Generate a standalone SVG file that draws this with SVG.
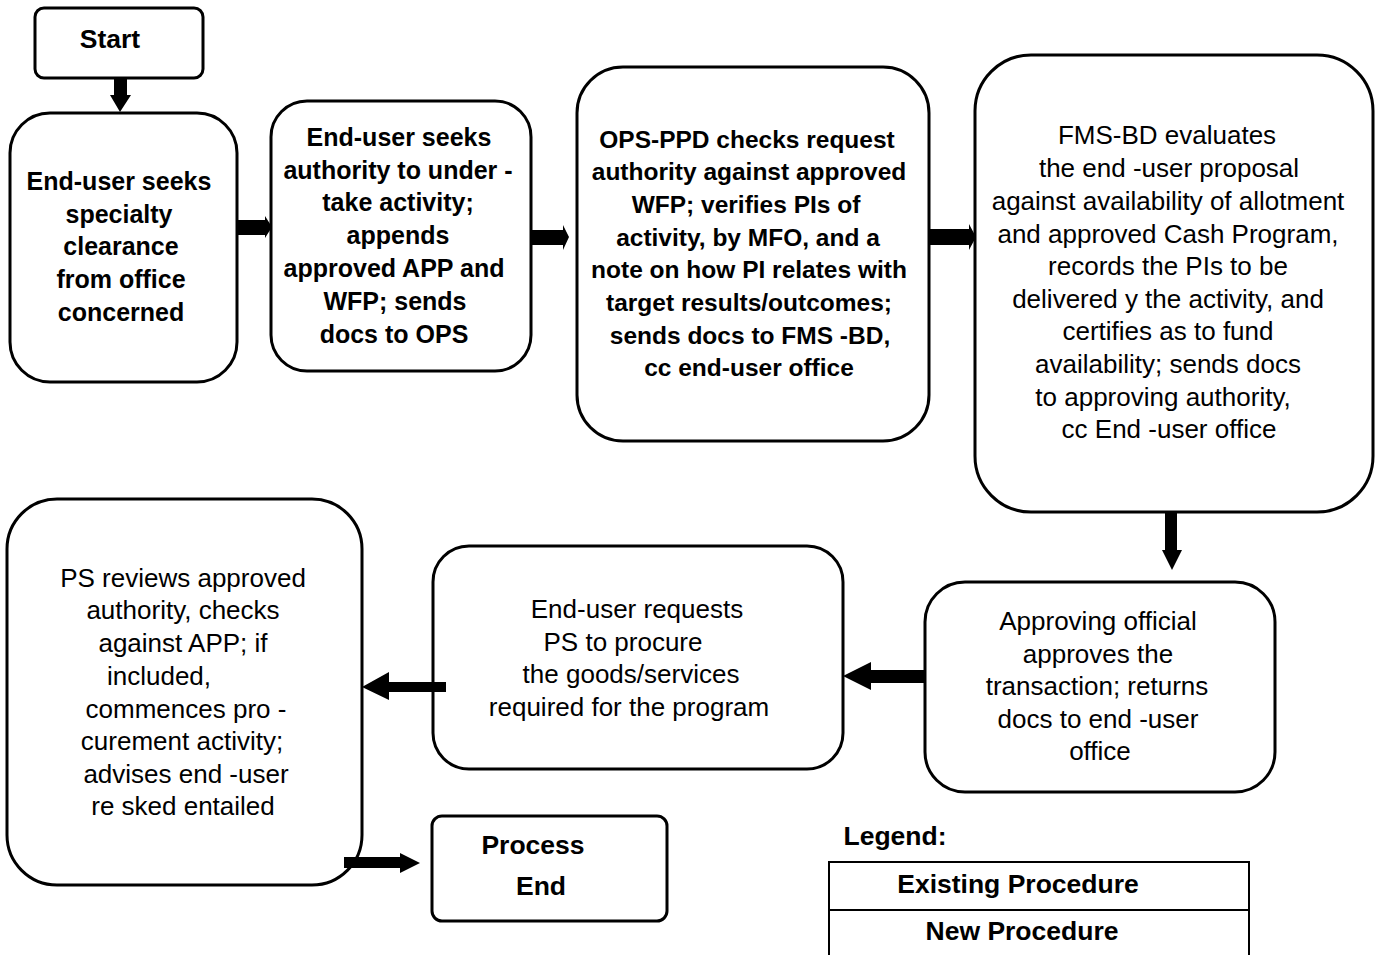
<svg xmlns="http://www.w3.org/2000/svg" width="1380" height="955" viewBox="0 0 1380 955">
<style>
.box{fill:#fff;stroke:#000;stroke-width:3}
.t{font-family:"Liberation Sans",Arial,sans-serif;font-size:26px;fill:#000;text-anchor:middle}
.b{font-weight:bold;font-size:25px}
.b3{font-size:24.5px}
.h{font-size:26.5px}
.arr{fill:#000;stroke:none}
</style>
<rect width="1380" height="955" fill="#fff"/>
<g id="start">
<rect class="box" x="35" y="8" width="168" height="70" rx="9"/>
<text class="t b h" x="110" y="48">Start</text>
</g>
<g id="n1">
<rect class="box" x="10" y="113" width="227" height="269" rx="40"/>
<text class="t b" x="119" y="190">End-user seeks</text>
<text class="t b" x="119" y="223">specialty</text>
<text class="t b" x="121" y="255">clearance</text>
<text class="t b" x="121" y="288">from office</text>
<text class="t b" x="121" y="321">concerned</text>
</g>
<g id="n2">
<rect class="box" x="271" y="101" width="260" height="270" rx="36"/>
<text class="t b" x="399" y="146">End-user seeks</text>
<text class="t b" x="398" y="179">authority to under -</text>
<text class="t b" x="398" y="211">take activity;</text>
<text class="t b" x="398" y="244">appends</text>
<text class="t b" x="394" y="277">approved APP and</text>
<text class="t b" x="395" y="310">WFP; sends</text>
<text class="t b" x="394" y="343">docs to OPS</text>
</g>
<g id="n3">
<rect class="box" x="577" y="67" width="352" height="374" rx="46"/>
<text class="t b b3" x="747" y="148">OPS-PPD checks request</text>
<text class="t b b3" x="749" y="180">authority against approved</text>
<text class="t b b3" x="746" y="213">WFP;  verifies PIs of</text>
<text class="t b b3" x="748" y="246">activity, by MFO, and a</text>
<text class="t b b3" x="749" y="278">note on how PI relates with</text>
<text class="t b b3" x="749" y="311">target results/outcomes;</text>
<text class="t b b3" x="750" y="344">sends docs to FMS -BD,</text>
<text class="t b b3" x="749" y="376">cc end-user office</text>
</g>
<g id="n4">
<rect class="box" x="975" y="55" width="398" height="457" rx="56"/>
<text class="t" x="1167" y="144">FMS-BD evaluates</text>
<text class="t" x="1169" y="177">the end -user proposal</text>
<text class="t" x="1168" y="210">against availability of allotment</text>
<text class="t" x="1168" y="243">and approved Cash Program,</text>
<text class="t" x="1168" y="275">records the PIs to be</text>
<text class="t" x="1168" y="308">delivered y the activity, and</text>
<text class="t" x="1168" y="340">certifies as to fund</text>
<text class="t" x="1168" y="373">availability; sends docs</text>
<text class="t" x="1163" y="406">to approving authority,</text>
<text class="t" x="1169" y="438">cc End -user office</text>
</g>
<g id="n5">
<rect class="box" x="925" y="582" width="350" height="210" rx="40"/>
<text class="t" x="1098" y="630">Approving official</text>
<text class="t" x="1098" y="663">approves the</text>
<text class="t" x="1097" y="695">transaction; returns</text>
<text class="t" x="1098" y="728">docs to end -user</text>
<text class="t" x="1100" y="760">office</text>
</g>
<g id="n6">
<rect class="box" x="433" y="546" width="410" height="223" rx="36"/>
<text class="t" x="637" y="618">End-user requests</text>
<text class="t" x="623" y="651">PS to procure</text>
<text class="t" x="631" y="683">the goods/services</text>
<text class="t" x="629" y="716">required for the program</text>
</g>
<g id="n7">
<rect class="box" x="7" y="499" width="355" height="386" rx="50"/>
<text class="t" x="183" y="587">PS reviews approved</text>
<text class="t" x="183" y="619">authority, checks</text>
<text class="t" x="183" y="652">against APP; if</text>
<text class="t" x="159" y="685">included,</text>
<text class="t" x="186" y="718">commences pro -</text>
<text class="t" x="182" y="750">curement activity;</text>
<text class="t" x="186" y="783">advises end -user</text>
<text class="t" x="183" y="815">re sked entailed</text>
</g>
<g id="end">
<rect class="box" x="432" y="816" width="235" height="105" rx="10"/>
<text class="t b h" x="533" y="854">Process</text>
<text class="t b h" x="541" y="895">End</text>
</g>
<g id="legend">
<text class="t b h" x="895" y="845">Legend:</text>
<rect x="829" y="862" width="420" height="100" fill="#fff" stroke="#000" stroke-width="2"/>
<line x1="829" y1="910" x2="1249" y2="910" stroke="#000" stroke-width="2"/>
<text class="t b h" x="1018" y="893">Existing Procedure</text>
<text class="t b h" x="1022" y="940">New Procedure</text>
</g>
<g id="connectors">
<polygon class="arr" points="114,78 127,78 127,95 131,95 120,112 110,95 114,95"/>
<polygon class="arr" points="237,220 265,220 265,216 272,227 265,238 265,235 237,235"/>
<polygon class="arr" points="531,230 563,230 563,225 569,237 563,250 563,245 531,245"/>
<polygon class="arr" points="929,229 969,229 969,224 976,237 969,250 969,245 929,245"/>
<polygon class="arr" points="1165,512 1177,512 1177,550 1182,550 1172,570 1162,550 1165,550"/>
<polygon class="arr" points="925,670 871,670 871,662 843,676 871,690 871,683 925,683"/>
<polygon class="arr" points="446,682 389,682 389,672 362,687 389,700 389,692 446,692"/>
<polygon class="arr" points="344,857 400,857 400,853 420,863 400,873 400,868 344,868"/>
</g>
</svg>
